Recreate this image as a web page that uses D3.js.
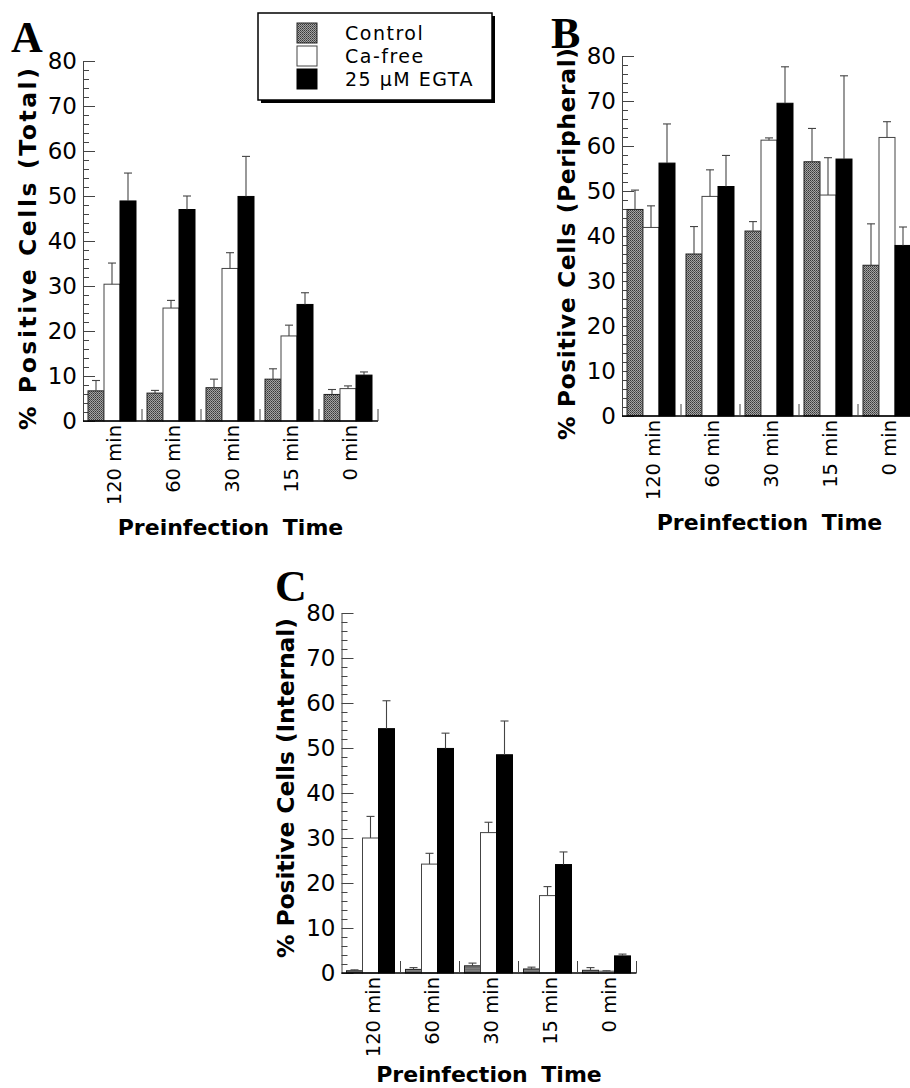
<!DOCTYPE html>
<html><head><meta charset="utf-8">
<script src="https://cdn.jsdelivr.net/npm/d3@7"></script>
<style>body{margin:0;background:#fff} svg{display:block}</style>
</head><body><svg id="c" width="910" height="1088"></svg>
<script>
// ---------- data ----------
const categories = ["120 min", "60 min", "30 min", "15 min", "0 min"];
const seriesNames = ["Control", "Ca-free", "25 \u03BCM EGTA"];
const yTickValues = [0, 10, 20, 30, 40, 50, 60, 70, 80];
const xTitle = "Preinfection Time";

// Panel A: Total
const totalControl    = [6.7, 6.2, 7.4, 9.3, 5.9];
const totalControlErr = [2.3, 0.6, 1.9, 2.3, 1.1];
const totalCaFree     = [30.4, 25.1, 33.9, 18.9, 7.2];
const totalCaFreeErr  = [4.7, 1.7, 3.5, 2.4, 0.6];
const totalEGTA       = [48.9, 47.0, 49.9, 25.9, 10.2];
const totalEGTAErr    = [6.2, 3.0, 8.9, 2.6, 0.7];

// Panel B: Peripheral
const periControl    = [45.9, 36.0, 41.1, 56.5, 33.5];
const periControlErr = [4.3, 6.1, 2.1, 7.4, 9.2];
const periCaFree     = [41.9, 48.8, 61.3, 49.1, 61.9];
const periCaFreeErr  = [4.8, 5.9, 0.5, 8.3, 3.5];
const periEGTA       = [56.2, 51.0, 69.5, 57.1, 37.9];
const periEGTAErr    = [8.7, 6.9, 8.1, 18.5, 4.1];

// Panel C: Internal
const intControl    = [0.5, 0.8, 1.6, 0.9, 0.6];
const intControlErr = [0.2, 0.4, 0.6, 0.4, 0.6];
const intCaFree     = [30.0, 24.2, 31.2, 17.2, 0.4];
const intCaFreeErr  = [4.8, 2.4, 2.3, 2.0, 0.1];
const intEGTA       = [54.3, 49.9, 48.5, 24.1, 3.8];
const intEGTAErr    = [6.2, 3.4, 7.5, 2.8, 0.4];

// ---------- layout ----------
const panels = [
  {letter: "A", ylabel: "% Positive Cells (Total)",
   vals: [totalControl, totalCaFree, totalEGTA], errs: [totalControlErr, totalCaFreeErr, totalEGTAErr],
   ax: 83, base: 421, lx: 11, ly: 52, ylabLen: 362, ylabC: 172, titleDy: 114},
  {letter: "B", ylabel: "% Positive Cells (Peripheral)",
   vals: [periControl, periCaFree, periEGTA], errs: [periControlErr, periCaFreeErr, periEGTAErr],
   ax: 622, base: 416, lx: 551, ly: 48, ylabLen: 392, ylabC: 172, titleDy: 114},
  {letter: "C", ylabel: "% Positive Cells (Internal)",
   vals: [intControl, intCaFree, intEGTA], errs: [intControlErr, intCaFreeErr, intEGTAErr],
   ax: 341.5, base: 973, lx: 275, ly: 601, ylabLen: 340, ylabC: 185, titleDy: 109}
];
const plotW = 295, plotH = 360;
const fills = ["url(#hatch)", "#ffffff", "#000000"];
const strokes = ["#222", "#444", "#000"];

const svg = d3.select("#c");
const defs = svg.append("defs");
const pat = defs.append("pattern").attr("id", "hatch").attr("patternUnits", "userSpaceOnUse")
  .attr("width", 2).attr("height", 2);
pat.append("rect").attr("width", 2).attr("height", 2).attr("fill", "#a4a4a4");
pat.append("rect").attr("width", 1).attr("height", 1).attr("fill", "#383838");
pat.append("rect").attr("x", 1).attr("y", 1).attr("width", 1).attr("height", 1).attr("fill", "#585858");

const sans = "'DejaVu Sans', Verdana, sans-serif";

panels.forEach(p => {
  const g = svg.append("g").attr("transform", `translate(${p.ax},${p.base - plotH})`);
  const y = d3.scaleLinear().domain([0, 80]).range([plotH, 0]);
  const x = d3.scaleBand().domain(categories).range([0, plotW]).paddingInner(0).paddingOuter(0);
  const xs = d3.scaleBand().domain(seriesNames).range([5, 53]);

  // minor ticks
  const minor = d3.range(0, 81, 2).filter(v => v % 10 !== 0);
  const gm = g.append("g").call(d3.axisLeft(y).tickValues(minor).tickSizeInner(-6).tickSizeOuter(0).tickFormat(""));
  gm.select(".domain").remove();
  gm.selectAll("line").attr("stroke", "#444");
  // major ticks + labels
  const ga = g.append("g").call(d3.axisLeft(y).tickValues(yTickValues).tickSizeInner(-12).tickSizeOuter(0).tickPadding(6));
  ga.select(".domain").attr("stroke", "#444");
  ga.selectAll("line").attr("stroke", "#444");
  ga.selectAll("text").attr("font-family", sans).attr("font-size", 23).attr("fill", "#000");

  // bars
  seriesNames.forEach((s, si) => {
    g.append("g").selectAll("rect").data(categories).join("rect")
      .attr("x", c => x(c) + xs(s))
      .attr("y", (c, i) => y(p.vals[si][i]))
      .attr("width", xs.bandwidth())
      .attr("height", (c, i) => y(0) - y(p.vals[si][i]))
      .attr("fill", fills[si]).attr("stroke", strokes[si]).attr("stroke-width", 1);
  });
  // error bars
  seriesNames.forEach((s, si) => {
    const eg = g.append("g").attr("stroke", "#444").attr("stroke-width", 1.1);
    categories.forEach((c, i) => {
      const cx = x(c) + xs(s) + xs.bandwidth() / 2;
      const v = p.vals[si][i], e = p.errs[si][i];
      eg.append("line").attr("x1", cx).attr("x2", cx).attr("y1", y(v)).attr("y2", y(v + e));
      eg.append("line").attr("x1", cx - 4).attr("x2", cx + 4).attr("y1", y(v + e)).attr("y2", y(v + e));
    });
  });

  // x baseline + boundary ticks
  g.append("line").attr("x1", 0).attr("x2", plotW).attr("y1", y(0)).attr("y2", y(0))
    .attr("stroke", "#000").attr("stroke-width", 1.5);
  g.append("g").selectAll("line").data(categories).join("line")
    .attr("x1", c => x(c) + x.step()).attr("x2", c => x(c) + x.step())
    .attr("y1", y(0)).attr("y2", y(0) - 12).attr("stroke", "#444");

  // category labels
  g.append("g").selectAll("text").data(categories).join("text")
    .attr("transform", c => `translate(${x(c) + 31},${y(0) + 4}) rotate(-90)`)
    .attr("text-anchor", "end").attr("dy", "0.36em")
    .attr("font-family", sans).attr("font-size", 19.5)
    .text(c => c);

  // x title
  g.append("text").attr("x", plotW / 2).attr("y", y(0) + p.titleDy).attr("text-anchor", "middle")
    .attr("font-family", sans).attr("font-weight", "bold").attr("font-size", 22)
    .attr("word-spacing", 6).text(xTitle);

  // y title
  g.append("text").attr("transform", `translate(-55.5,${plotH - p.ylabC}) rotate(-90)`)
    .attr("text-anchor", "middle").attr("dy", "0.36em")
    .attr("font-family", sans).attr("font-weight", "bold").attr("font-size", 23.5)
    .attr("textLength", p.ylabLen).attr("lengthAdjust", "spacing")
    .text(p.ylabel);

  // panel letter
  svg.append("text").attr("x", p.lx).attr("y", p.ly)
    .attr("font-family", "'Liberation Serif', 'Times New Roman', serif").attr("font-weight", "bold")
    .attr("font-size", 44).text(p.letter);
});

// legend
const lg = svg.append("g");
lg.append("rect").attr("x", 261).attr("y", 16).attr("width", 234).attr("height", 87).attr("fill", "#000");
lg.append("rect").attr("x", 258).attr("y", 13).attr("width", 234).attr("height", 87)
  .attr("fill", "#fff").attr("stroke", "#000").attr("stroke-width", 1.5);
seriesNames.forEach((s, i) => {
  lg.append("rect").attr("x", 297).attr("y", 23 + i * 23).attr("width", 20).attr("height", 20)
    .attr("fill", fills[i]).attr("stroke", strokes[i]).attr("stroke-width", 1);
  lg.append("text").attr("x", 345).attr("y", 40 + i * 23)
    .attr("font-family", sans).attr("font-size", 19).attr("letter-spacing", 1.5).text(s);
});
</script></body></html>
